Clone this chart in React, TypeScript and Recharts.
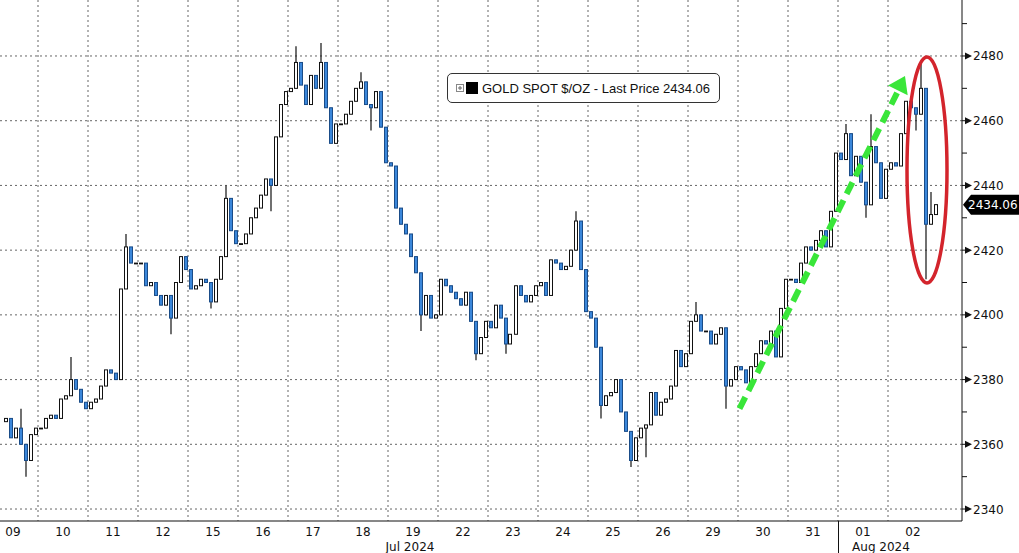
import React from "react";
import {
  ComposedChart,
  Bar,
  XAxis,
  YAxis,
  CartesianGrid,
  ReferenceLine,
  ReferenceDot,
} from "recharts";

const dayLabels = ["09", "10", "11", "12", "15", "16", "17", "18", "19", "22", "23", "24", "25", "26", "29", "30", "31", "01", "02"];
const monthLabels = ["Jul 2024", "Aug 2024"];
const monthPositions = [8.44, 17.86];
const yMajor = [2340, 2360, 2380, 2400, 2420, 2440, 2460, 2480];
const yMinor = [2350, 2370, 2390, 2410, 2430, 2450, 2470, 2490];
const gridDays = [1, 2, 3, 4, 5, 6, 7, 8, 9, 10, 11, 12, 13, 14, 15, 16, 17, 18];
const lastPrice = 2434.06;

// closes, roughly 10 bars a session
const firstOpen = 2367;
const jul09 = [2368, 2362, 2365, 2360, 2355, 2363, 2365]; // only the end of the session is in view
const jul10 = [2365, 2368, 2369, 2368, 2374, 2375, 2380, 2377, 2373, 2371];
const jul11 = [2373, 2374, 2378, 2383, 2382, 2380, 2408, 2421, 2416, 2416];
const jul12 = [2416, 2409, 2410, 2406, 2403, 2406, 2399, 2410, 2418, 2414];
const jul15 = [2408, 2409, 2411, 2410, 2404, 2411, 2418, 2436, 2426, 2422];
const jul16 = [2422, 2425, 2430, 2433, 2437, 2442, 2440, 2455, 2465, 2469];
const jul17 = [2470, 2478, 2471, 2465, 2474, 2470, 2478, 2464, 2453, 2459];
const jul18 = [2459, 2462, 2466, 2470, 2472, 2465, 2464, 2469, 2458, 2447];
const jul19 = [2446, 2433, 2428, 2425, 2418, 2413, 2400, 2406, 2399, 2400];
const jul22 = [2411, 2409, 2407, 2405, 2403, 2407, 2398, 2388, 2393, 2398];
const jul23 = [2396, 2403, 2399, 2391, 2394, 2409, 2406, 2404, 2406, 2409];
const jul24 = [2410, 2406, 2417, 2416, 2414, 2415, 2420, 2429, 2414, 2401];
const jul25 = [2399, 2390, 2372, 2375, 2376, 2380, 2370, 2364, 2355, 2362];
const jul26 = [2365, 2366, 2376, 2369, 2373, 2374, 2378, 2389, 2384, 2388];
const jul29 = [2398, 2400, 2395, 2395, 2391, 2394, 2396, 2378, 2380, 2384];
const jul30 = [2383, 2379, 2384, 2388, 2392, 2391, 2395, 2387, 2402, 2411];
const jul31 = [2411, 2410, 2416, 2421, 2420, 2423, 2426, 2421, 2432, 2450];
const aug01 = [2448, 2456, 2443, 2449, 2441, 2434, 2452, 2447, 2436, 2445];
const aug02 = [2447, 2446, 2456, 2466, 2464, 2462, 2470, 2428, 2431, 2434.06];

const sessions = [jul09, jul10, jul11, jul12, jul15, jul16, jul17, jul18, jul19, jul22, jul23, jul24, jul25, jul26, jul29, jul30, jul31, aug01, aug02];

// wicks that poke out past the body: [day, bar in that day, price]
const wickHighs: [string, number, number][] = [
  ["09", 3, 2371], ["10", 6, 2387], ["11", 7, 2425], ["15", 7, 2440],
  ["17", 1, 2483], ["17", 6, 2484], ["18", 4, 2475], ["24", 7, 2432],
  ["29", 1, 2404], ["01", 1, 2459], ["01", 6, 2462], ["02", 6, 2478], ["02", 8, 2438],
];
const wickLows: [string, number, number][] = [
  ["09", 4, 2350], ["12", 6, 2394], ["15", 4, 2402], ["16", 6, 2432],
  ["18", 6, 2457], ["19", 6, 2395], ["22", 7, 2386], ["23", 3, 2388],
  ["25", 2, 2368], ["25", 8, 2353], ["26", 1, 2356], ["29", 7, 2371],
  ["01", 5, 2430], ["02", 5, 2457], ["02", 7, 2411],
];

const BARS_PER_DAY = 10;

const rows: any[] = [];
let prevClose = firstOpen;
sessions.forEach((closes, d) => {
  const skip = BARS_PER_DAY - closes.length;
  closes.forEach((close, i) => {
    const open = prevClose;
    let high = Math.max(open, close);
    let low = Math.min(open, close);
    wickHighs.forEach(([day, bar, p]) => {
      if (day === dayLabels[d] && bar === i) high = Math.max(high, p);
    });
    wickLows.forEach(([day, bar, p]) => {
      if (day === dayLabels[d] && bar === i) low = Math.min(low, p);
    });
    rows.push({
      t: d + (i + skip + 0.5) / BARS_PER_DAY,
      open,
      close,
      high,
      low,
      range: [low, high],
    });
    prevClose = close;
  });
});

const X_DOMAIN: [number, number] = [0.24, 19.48];
const Y_DOMAIN: [number, number] = [2336.3, 2497.3];

function Candle(props: any) {
  const { x, y, width, height, payload } = props;
  if (!payload) return null;
  const { open, close, high, low } = payload;
  const top = Math.min(y, y + height);
  const h = Math.abs(height);
  const span = high - low;
  const py = (v: number) => (span > 0 ? top + ((high - v) / span) * h : top);
  const c = Math.round(x + width / 2);
  const up = close >= open;
  const bodyTop = py(Math.max(open, close));
  const bodyBot = py(Math.min(open, close));
  const edge = up ? "#111" : "#1a4c88";
  return (
    <g>
      <line x1={c} x2={c} y1={top} y2={top + h} stroke="#111" strokeWidth={1.2} />
      <rect
        x={c - 1.5}
        y={bodyTop}
        width={3}
        height={Math.max(bodyBot - bodyTop, 0.8)}
        fill={up ? "#fff" : "#3b87da"}
        stroke={edge}
        strokeWidth={1}
      />
    </g>
  );
}

function DayTick(props: any) {
  const { x, y, payload } = props;
  const label = dayLabels[Math.floor(payload.value)];
  return (
    <g>
      <text x={x} y={y + 11} textAnchor="middle" dominantBaseline="middle" fontSize={12} fill="#111">
        {label}
      </text>
      {label === "01" && <line x1={x - 24.5} x2={x - 24.5} y1={y} y2={y + 32} stroke="#111" strokeWidth={1} />}
    </g>
  );
}

function MonthTick(props: any) {
  const { x, y, payload } = props;
  const idx = monthPositions.indexOf(payload.value);
  return (
    <text x={x} y={y + 10} textAnchor="middle" dominantBaseline="middle" fontSize={12} fill="#111">
      {monthLabels[idx]}
    </text>
  );
}

function PriceTick(props: any) {
  const { x, y, payload } = props;
  const v = payload.value;
  if (v === lastPrice) {
    return (
      <g>
        <polygon
          points={`${x + 1},${y} ${x + 9},${y - 10} ${x + 57},${y - 10} ${x + 57},${y + 10} ${x + 9},${y + 10}`}
          fill="#000"
        />
        <text x={x + 6} y={y + 1} dominantBaseline="middle" fontSize={12} fill="#fff">
          {v.toFixed(2)}
        </text>
      </g>
    );
  }
  if (yMajor.includes(v)) {
    return (
      <g>
        <line x1={x} x2={x + 4} y1={y} y2={y} stroke="#111" />
        <polygon points={`${x + 3},${y - 3.5} ${x + 10},${y} ${x + 3},${y + 3.5}`} fill="#111" />
        <text x={x + 11} y={y + 1} dominantBaseline="middle" fontSize={12} fill="#111">
          {v}
        </text>
      </g>
    );
  }
  return <line x1={x} x2={x + 5} y1={y} y2={y} stroke="#111" />;
}

// hand-drawn annotations, placed in data units
const arrowFrom = { x: 15.03, y: 2371 };
const arrowTo = { x: 18.22, y: 2469.8 };
const arrowTip = { x: 18.34, y: 2473.8 };
const ringCenter = { x: 18.78, y: 2444.8 };

function ArrowHead(props: any) {
  const { cx, cy } = props;
  const dx = 0.447;
  const dy = -0.894;
  const len = 16;
  const half = 11;
  const bx = cx - dx * len;
  const by = cy - dy * len;
  const px = -dy;
  const py = dx;
  return (
    <polygon
      points={`${cx},${cy} ${bx + px * half},${by + py * half} ${bx - px * half},${by - py * half}`}
      fill="#39e639"
    />
  );
}

function Ring(props: any) {
  const { cx, cy } = props;
  return <ellipse cx={cx} cy={cy} rx={20} ry={113} fill="none" stroke="#d3242c" strokeWidth={3.5} />;
}

export default function App() {
  const ticksY = [...yMajor, ...yMinor, lastPrice];
  return (
    <div
      style={{
        position: "absolute",
        left: 0,
        top: 0,
        width: 1019,
        height: 553,
        background: "#fff",
        fontFamily: "'DejaVu Sans', sans-serif",
      }}
    >
      <ComposedChart width={1019} height={553} data={rows} margin={{ top: 0, right: 0, bottom: 0, left: 0 }}>
        <CartesianGrid
          verticalValues={gridDays}
          horizontalValues={yMajor}
          stroke="#666"
          strokeDasharray="2 3"
        />
        <XAxis
          dataKey="t"
          type="number"
          domain={X_DOMAIN}
          allowDataOverflow
          ticks={dayLabels.map((_, i) => i + 0.5)}
          interval={0}
          tick={<DayTick />}
          tickLine={false}
          tickSize={0}
          tickMargin={0}
          axisLine={{ stroke: "#111" }}
          height={16}
        />
        <XAxis
          xAxisId="m"
          dataKey="t"
          type="number"
          domain={X_DOMAIN}
          allowDataOverflow
          ticks={monthPositions}
          interval={0}
          tick={<MonthTick />}
          tickLine={false}
          tickSize={0}
          tickMargin={0}
          axisLine={false}
          height={16}
        />
        <YAxis
          orientation="right"
          type="number"
          domain={Y_DOMAIN}
          allowDataOverflow
          ticks={ticksY}
          interval={0}
          tick={<PriceTick />}
          tickLine={false}
          tickSize={0}
          tickMargin={0}
          axisLine={{ stroke: "#111" }}
          width={57}
        />
        <Bar dataKey="range" barSize={3} shape={<Candle />} isAnimationActive={false} />
        <ReferenceLine
          segment={[arrowFrom, arrowTo]}
          stroke="#39e639"
          strokeWidth={6}
          strokeDasharray="13 7"
          ifOverflow="visible"
        />
        <ReferenceDot x={arrowTip.x} y={arrowTip.y} shape={<ArrowHead />} ifOverflow="visible" />
        <ReferenceDot x={ringCenter.x} y={ringCenter.y} shape={<Ring />} ifOverflow="visible" />
      </ComposedChart>
      <div
        style={{
          position: "absolute",
          left: 447,
          top: 73,
          width: 273,
          height: 30,
          boxSizing: "border-box",
          border: "1px solid #333",
          borderRadius: 5,
          background: "#fff",
          display: "flex",
          alignItems: "center",
          fontSize: 13,
          color: "#111",
          fontFamily: "'Liberation Sans', Arial, sans-serif",
        }}
      >
        <svg width={34} height={14} style={{ flex: "none" }}>
          <rect x={8.5} y={3.5} width={7} height={7} fill="#fff" stroke="#888" />
          <line x1={10} x2={14} y1={7} y2={7} stroke="#666" />
          <line x1={12} x2={12} y1={5} y2={9} stroke="#666" />
          <rect x={18} y={1} width={12} height={12} fill="#000" />
        </svg>
        <span>GOLD SPOT $/OZ - Last Price 2434.06</span>
      </div>
    </div>
  );
}
